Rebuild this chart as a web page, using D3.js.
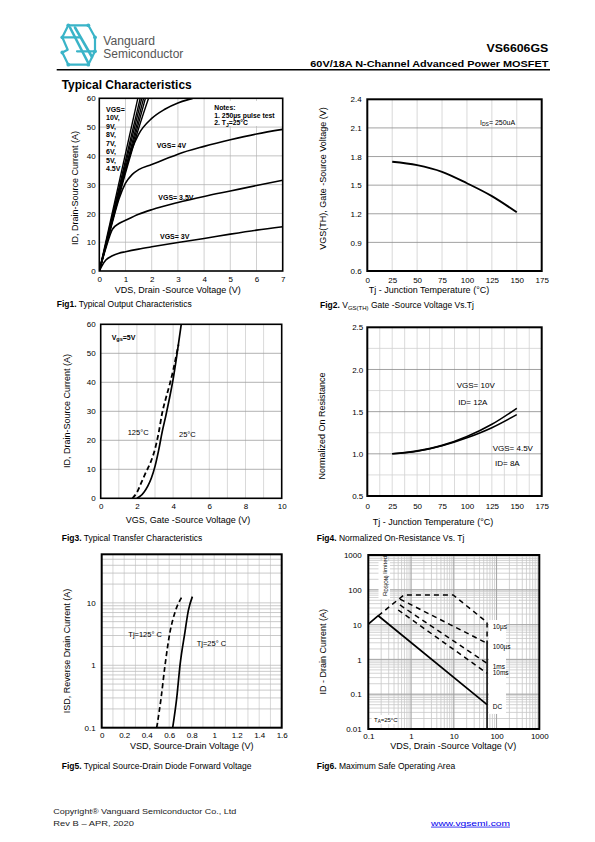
<!DOCTYPE html>
<html><head><meta charset="utf-8">
<script src="https://cdn.jsdelivr.net/npm/d3@7"></script>
<style>body{margin:0;background:#fff}svg{display:block}text{font-family:"Liberation Sans",Arial,sans-serif}</style>
</head><body>
<svg id="page" width="595" height="842"></svg>
<script>
// ---------------- DATA ----------------
// Fig1: output characteristics  [VDS (V), ID (A)]
const fig1Vgs10 = [[0,0],[1.47,60]];
const fig1Vgs9  = [[0,0],[1.56,60]];
const fig1Vgs8  = [[0,0],[1.62,60]];
const fig1Vgs7  = [[0,0],[1.69,60]];
const fig1Vgs6  = [[0,0],[0.9,31.5],[1.76,60]];
const fig1Vgs5  = [[0,0],[0.5,17.5],[1,34],[1.5,49.5],[1.88,60]];
const fig1Vgs45 = [[0,0],[0.25,9],[0.5,18.5],[0.75,27.5],[1,35.5],[1.25,42.5],[1.5,47.5],[2,53],[2.5,56.2],[3,58.4],[3.5,59.8],[3.7,60.3]];
const fig1Vgs4  = [[0,0],[0.25,8.5],[0.5,17],[0.75,25],[1,30.5],[1.25,33.5],[1.5,35.2],[2,37],[2.5,38.8],[3,40.6],[4,43.3],[5,45.6],[6,47.6],[7,49.2]];
const fig1Vgs35 = [[0,0],[0.25,8],[0.5,14.5],[0.75,16.5],[1,17.6],[1.5,19.7],[2,21.3],[3,23.8],[4,25.9],[5,27.8],[6,29.7],[7,31.5]];
const fig1Vgs3  = [[0,0],[0.1,1.8],[0.25,3.8],[0.5,5.3],[0.75,6.2],[1,6.7],[1.5,7.6],[2,8.4],[3,9.9],[4,11.3],[5,12.8],[6,14.2],[7,15.4]];
const fig1XTicks = [0,1,2,3,4,5,6,7];
const fig1YTicks = [0,10,20,30,40,50,60];

// Fig2: VGS(TH) vs Tj
const fig2Tj  = [25,50,75,100,125,150];
const fig2Vth = [1.745,1.71,1.64,1.52,1.385,1.215];
const fig2XTicks = [0,25,50,75,100,125,150,175];
const fig2YTicks = [0.6,0.9,1.2,1.5,1.8,2.1,2.4];

// Fig3: transfer characteristics [VGS, ID]
const fig3T25  = [[2.0,0],[2.2,0.8],[2.4,2.2],[2.6,4.2],[2.8,7],[3.0,11],[3.2,16.5],[3.4,23],[3.6,28.5],[3.8,34.5],[4.0,41],[4.2,49],[4.45,60]];
const fig3T125 = [[1.75,0],[2.0,2],[2.25,5.5],[2.5,9],[2.75,12.3],[3.0,17],[3.2,22.5],[3.4,29.5],[3.6,34.5],[3.8,39],[4.0,44],[4.2,50],[4.3,53]];
const fig3XTicks = [0,2,4,6,8,10];
const fig3YTicks = [0,10,20,30,40,50,60];

// Fig4: normalized on-resistance vs Tj
const fig4Tj    = [25,50,75,100,125,150];
const fig4Vgs10 = [1.0,1.035,1.1,1.205,1.35,1.54];
const fig4Vgs45 = [1.0,1.03,1.095,1.19,1.31,1.465];
const fig4XTicks = [0,25,50,75,100,125,150,175];
const fig4YTicks = [0.5,1.0,1.5,2.0,2.5];

// Fig5: source-drain diode forward voltage
const fig5Vsd25  = [0.631,0.667,0.696,0.74,0.77,0.806];
const fig5Is25   = [0.1,0.3,1,3.4,7.5,12.6];
const fig5Vsd125 = [0.489,0.527,0.563,0.607,0.652,0.711];
const fig5Is125  = [0.1,0.29,1,3.4,7.1,12.3];
const fig5XTicks = [0,0.2,0.4,0.6,0.8,1,1.2,1.4,1.6];
const fig5YTicks = [0.1,1,10];

// Fig6: safe operating area [VDS, ID]
const fig6DC      = [[0.1,10.4],[0.171,18],[60,0.05]];
const fig6DCwall  = [[60,3],[60,0.01]];
const fig6Us10    = [[0.171,18],[0.68,71],[9.7,71],[60,11.6],[60,2.9]];
const fig6Us100   = [[0.55,54],[60,2.9]];
const fig6Ms1     = [[0.55,36.6],[60,0.77]];
const fig6Ms10    = [[0.5,26.3],[60,0.4]];
const fig6XTicks = [0.1,1,10,100,1000];
const fig6YTicks = [0.01,0.1,1,10,100,1000];

// ---------------- DRAWING ----------------
const svg = d3.select("#page");
svg.append("rect").attr("width",595).attr("height",842).attr("fill","#fff");

function txt(g, x, y, s, size, opts={}) {
  const t = g.append("text").attr("x",x).attr("y",y).attr("font-size",size).attr("fill",opts.fill||"#000");
  if (opts.anchor) t.attr("text-anchor",opts.anchor);
  if (opts.weight) t.attr("font-weight",opts.weight);
  if (opts.len) t.attr("textLength",opts.len).attr("lengthAdjust","spacingAndGlyphs");
  if (opts.rotate) t.attr("transform",`rotate(-90,${x},${y})`);
  t.text(s);
  return t;
}

function panel(o) {
  const g = svg.append("g");
  const [xl, xr] = o.x.range();
  const [yb, yt] = o.y.range();
  (o.grids||[]).forEach(gr => {
    if (gr.dir === "v") {
      g.append("g").selectAll("line").data(gr.vals).join("line")
        .attr("x1",d=>o.x(d)).attr("x2",d=>o.x(d)).attr("y1",yb).attr("y2",yt)
        .attr("stroke",gr.color).attr("stroke-width",gr.w||0.8);
    } else {
      g.append("g").selectAll("line").data(gr.vals).join("line")
        .attr("y1",d=>o.y(d)).attr("y2",d=>o.y(d)).attr("x1",xl).attr("x2",xr)
        .attr("stroke",gr.color).attr("stroke-width",gr.w||0.8);
    }
  });
  svg.append("clipPath").attr("id",o.id).append("rect")
    .attr("x",xl).attr("y",yt).attr("width",xr-xl).attr("height",yb-yt);
  const plot = g.append("g").attr("clip-path",`url(#${o.id})`);
  const top = g.append("g");
  const ax = g.append("g").attr("transform",`translate(0,${yb})`)
    .call(d3.axisBottom(o.x).tickValues(o.xTicks).tickSize(0).tickFormat(o.xFmt||(d=>d)));
  ax.select(".domain").remove();
  ax.selectAll("text").attr("y",o.xOff).attr("dy",null).attr("font-size",8).attr("font-family","Liberation Sans, Arial, sans-serif").attr("fill","#000");
  const ay = g.append("g").attr("transform",`translate(${xl},0)`)
    .call(d3.axisLeft(o.y).tickValues(o.yTicks).tickSize(0).tickPadding(o.yOff).tickFormat(o.yFmt||(d=>d)));
  ay.select(".domain").remove();
  ay.selectAll("text").attr("font-size",8).attr("font-family","Liberation Sans, Arial, sans-serif").attr("fill","#000").attr("dy","0.33em");
  g.append("rect").attr("x",xl).attr("y",yt).attr("width",xr-xl).attr("height",yb-yt)
    .attr("fill","none").attr("stroke","#000").attr("stroke-width",o.frameW||1.6);
  return {g, plot, top};
}

function curve(plot, x, y, data, opts={}) {
  const line = d3.line().x(d=>x(d[0])).y(d=>y(d[1])).curve(opts.curve||d3.curveLinear);
  const p = plot.append("path").datum(data).attr("d",line).attr("fill","none")
    .attr("stroke","#000").attr("stroke-width",opts.w||1.6).attr("stroke-linejoin","round");
  if (opts.dash) p.attr("stroke-dasharray",opts.dash);
  return p;
}
const range = (a,b,s) => d3.range(a, b+s/2, s).map(v=>+v.toFixed(4));
function logMinors(lo, hi) {
  const out = [];
  for (let k = Math.floor(Math.log10(lo)); Math.pow(10,k) < hi; k++) {
    for (let m = 1; m <= 9; m++) { const v = +(m*Math.pow(10,k)).toPrecision(3); if (v>lo && v<hi) out.push(v); }
  }
  return out;
}
function caption(x, y, bold, rest) {
  const t = svg.append("text").attr("x",x).attr("y",y).attr("font-size",8.5);
  t.append("tspan").attr("font-weight","bold").text(bold);
  t.append("tspan").text(rest);
  return t;
}

// ---------------- HEADER ----------------
const logo = svg.append("g").attr("stroke","#3ab4c8").attr("fill","none").attr("stroke-width",2.2).attr("stroke-linecap","round").attr("stroke-linejoin","round");
logo.append("path").attr("d","M68.3,25.3 L88.3,25.3 L95,37.3 M62.3,37.3 L68.3,25.3 M62.3,37.3 L80,37.3 M62.3,37.3 L67.7,49.7 M95,37.3 L95,51.3 M77,51.3 L95,51.3 M95,51.3 L88.3,64.7 L68.3,64.7 L62.3,52.5 M67.7,49.7 L62.3,52.5");
logo.append("path").attr("d","M70,27.5 L88,62.5 M75,27.5 L92,57").attr("stroke-width",2.6);
logo.selectAll("circle").data([[68.3,25.3],[88.3,25.3],[95,37.3],[62.3,37.3],[95,51.3],[88.3,64.7],[68.3,64.7],[62.3,52.5]]).join("circle")
  .attr("cx",d=>d[0]).attr("cy",d=>d[1]).attr("r",1.9).attr("fill","#3ab4c8").attr("stroke","none");
txt(svg,103.3,44.5,"Vanguard",12,{fill:"#555",len:51.7}).attr("font-family","Open Sans, sans-serif");
txt(svg,103.3,57.5,"Semiconductor",12,{fill:"#555",len:80}).attr("font-family","Open Sans, sans-serif");
txt(svg,548.3,52.3,"VS6606GS",11.5,{anchor:"end",weight:"bold",len:61.7});
txt(svg,548.3,67.3,"60V/18A  N-Channel  Advanced  Power  MOSFET",9.5,{anchor:"end",weight:"bold",len:238});
svg.append("line").attr("x1",56.7).attr("x2",550).attr("y1",69.8).attr("y2",69.8).attr("stroke","#000").attr("stroke-width",1.4);
txt(svg,61.7,89,"Typical Characteristics",12.5,{weight:"bold",len:130});

// ---------------- FIG 1 ----------------
{
  const x = d3.scaleLinear().domain([0,7]).range([99.3,282.7]);
  const y = d3.scaleLinear().domain([0,60]).range([271,98.3]);
  const P = panel({id:"c1",x,y,xTicks:fig1XTicks,yTicks:fig1YTicks,xOff:10.7,yOff:3.6,
    grids:[{dir:"v",vals:[1,2,3,4,5,6],color:"#c4c4c4"},{dir:"h",vals:[10,20,30,40,50],color:"#b4b4b4"}]});
  [fig1Vgs10,fig1Vgs9,fig1Vgs8,fig1Vgs7,fig1Vgs6,fig1Vgs5].forEach(d=>curve(P.plot,x,y,d,{w:1.4,curve:d3.curveMonotoneX}));
  [fig1Vgs45,fig1Vgs4,fig1Vgs35,fig1Vgs3].forEach(d=>curve(P.plot,x,y,d,{w:1.6,curve:d3.curveMonotoneX}));
  const lbl = ["VGS=","10V,","9V,","8V,","7V,","6V,","5V,","4.5V"];
  lbl.forEach((s,i)=>txt(P.top,106,111.5+i*8.5,s,7,{weight:"bold"}));
  P.top.append("rect").attr("x",212).attr("y",101).attr("width",62).attr("height",25).attr("fill","#fff");
  txt(P.top,214.3,110,"Notes:",6.8,{weight:"bold"});
  txt(P.top,214.3,117.5,"1. 250µs pulse test",6.8,{weight:"bold"});
  const n2 = P.top.append("text").attr("x",214.3).attr("y",125).attr("font-size",6.8).attr("font-weight","bold");
  n2.append("tspan").text("2. T"); n2.append("tspan").attr("font-size",5).attr("dy",1.5).text("J");
  n2.append("tspan").attr("dy",-1.5).text("=25°C");
  txt(P.top,156.7,147.5,"VGS= 4V",7,{weight:"bold"});
  txt(P.top,158.3,199.5,"VGS= 3.5V",7,{weight:"bold"});
  txt(P.top,160,239,"VGS= 3V",7,{weight:"bold"});
  txt(svg,78,188,"ID, Drain-Source Current (A)",9,{anchor:"middle",rotate:true});
  txt(svg,177.8,293.2,"VDS, Drain -Source Voltage (V)",9,{anchor:"middle"});
  caption(56.7,307,"Fig1.", " Typical Output Characteristics");
}

// ---------------- FIG 2 ----------------
{
  const x = d3.scaleLinear().domain([0,175]).range([367.3,541.7]);
  const y = d3.scaleLinear().domain([0.6,2.4]).range([271,99.3]);
  const P = panel({id:"c2",x,y,xTicks:fig2XTicks,yTicks:fig2YTicks,xOff:11.7,yOff:5.6,yFmt:d3.format(".1f"),frameW:2,
    grids:[{dir:"v",vals:[25,50,75,100,125,150],color:"#cfcfcf"},{dir:"h",vals:[0.9,1.2,1.5,1.8,2.1],color:"#8a8a8a"}]});
  curve(P.plot,x,y,fig2Tj.map((t,i)=>[t,fig2Vth[i]]),{w:1.9,curve:d3.curveMonotoneX});
  const t = P.top.append("text").attr("x",480).attr("y",124.5).attr("font-size",7);
  t.append("tspan").text("I"); t.append("tspan").attr("font-size",5).attr("dy",1).text("DS");
  t.append("tspan").attr("dy",-1).text("= 250uA");
  txt(svg,326,178.5,"VGS(TH), Gate -Source Voltage (V)",9,{anchor:"middle",rotate:true});
  txt(svg,429,293.3,"Tj - Junction Temperature (°C)",9,{anchor:"middle"});
  const c = svg.append("text").attr("x",320).attr("y",308.3).attr("font-size",8.5);
  c.append("tspan").attr("font-weight","bold").text("Fig2.");
  c.append("tspan").text(" V");
  c.append("tspan").attr("font-size",6).attr("dy",1.5).text("GS(TH)");
  c.append("tspan").attr("dy",-1.5).text(" Gate -Source Voltage Vs.Tj");
}

// ---------------- FIG 3 ----------------
{
  const x = d3.scaleLinear().domain([0,10]).range([100.7,281.7]);
  const y = d3.scaleLinear().domain([0,60]).range([498.3,324.3]);
  const P = panel({id:"c3",x,y,xTicks:fig3XTicks,yTicks:fig3YTicks,xOff:10.7,yOff:5,
    grids:[{dir:"v",vals:[1,2,3,4,5,6,7,8,9],color:"#cfcfcf"},{dir:"h",vals:[10,20,30,40,50],color:"#a0a0a0"}]});
  curve(P.plot,x,y,fig3T125,{w:1.8,dash:"5,3",curve:d3.curveMonotoneX});
  curve(P.plot,x,y,fig3T25,{w:1.7,curve:d3.curveMonotoneX});
  const v = P.top.append("text").attr("x",111.7).attr("y",340).attr("font-size",7).attr("font-weight","bold");
  v.append("tspan").text("V"); v.append("tspan").attr("font-size",5.5).attr("dy",1).text("gs");
  v.append("tspan").attr("dy",-1).text("=5V");
  txt(P.top,127.7,434.5,"125°C",7.5);
  txt(P.top,179,437,"25°C",7.5);
  txt(svg,70,411,"ID, Drain-Source Current (A)",9,{anchor:"middle",rotate:true});
  txt(svg,188,523.3,"VGS, Gate -Source Voltage (V)",9,{anchor:"middle"});
  caption(61.7,540.5,"Fig3.", " Typical Transfer Characteristics");
}

// ---------------- FIG 4 ----------------
{
  const x = d3.scaleLinear().domain([0,175]).range([367.3,541.7]);
  const y = d3.scaleLinear().domain([0.5,2.5]).range([496,327.3]);
  const P = panel({id:"c4",x,y,xTicks:fig4XTicks,yTicks:fig4YTicks,xOff:13,yOff:4,yFmt:d3.format(".1f"),frameW:2,
    grids:[{dir:"v",vals:range(12.5,162.5,12.5),color:"#d2d2d2"},{dir:"h",vals:[0.75,1.25,1.75,2.25],color:"#d2d2d2"},{dir:"h",vals:[1.0,1.5,2.0],color:"#8a8a8a"}]});
  curve(P.plot,x,y,fig4Tj.map((t,i)=>[t,fig4Vgs10[i]]),{w:1.6,curve:d3.curveMonotoneX});
  curve(P.plot,x,y,fig4Tj.map((t,i)=>[t,fig4Vgs45[i]]),{w:1.6,curve:d3.curveMonotoneX});
  txt(P.top,456.7,388,"VGS= 10V",8);
  txt(P.top,458.3,404.5,"ID= 12A",8);
  txt(P.top,492.7,450.5,"VGS= 4.5V",8);
  txt(P.top,495,465.5,"ID= 8A",8);
  txt(svg,325,426,"Normalized On Resistance",9,{anchor:"middle",rotate:true});
  txt(svg,433,525,"Tj - Junction Temperature (°C)",9,{anchor:"middle"});
  caption(316.7,540.5,"Fig4.", " Normalized On-Resistance Vs. Tj");
}

// ---------------- FIG 5 ----------------
{
  const x = d3.scaleLinear().domain([0,1.6]).range([101.7,281.7]);
  const y = d3.scaleLog().domain([0.1,60]).range([727.7,554.3]);
  const P = panel({id:"c5",x,y,xTicks:fig5XTicks,yTicks:fig5YTicks,xOff:10.7,yOff:6,frameW:2,
    grids:[{dir:"v",vals:range(0.1,1.5,0.1),color:"#cfcfcf"},{dir:"h",vals:logMinors(0.1,60),color:"#bdbdbd"}]});
  curve(P.plot,x,y,fig5Vsd125.map((v,i)=>[v,fig5Is125[i]]),{w:1.7,dash:"5,3",curve:d3.curveMonotoneX});
  curve(P.plot,x,y,fig5Vsd25.map((v,i)=>[v,fig5Is25[i]]),{w:1.7,curve:d3.curveMonotoneX});
  txt(P.top,128.3,636.5,"Tj=125° C",7.5);
  txt(P.top,196.7,645.5,"Tj=25° C",7.5);
  txt(svg,70,651,"ISD, Reverse Drain Current (A)",9,{anchor:"middle",rotate:true});
  txt(svg,191.7,749,"VSD, Source-Drain Voltage (V)",9,{anchor:"middle"});
  caption(61.7,768.5,"Fig5.", " Typical Source-Drain Diode Forward Voltage");
}

// ---------------- FIG 6 ----------------
{
  const x = d3.scaleLog().domain([0.1,1000]).range([368.3,539.3]);
  const y = d3.scaleLog().domain([0.01,1000]).range([729,555]);
  const P = panel({id:"c6",x,y,xTicks:fig6XTicks,yTicks:fig6YTicks,xOff:10,yOff:6.6,frameW:2,
    xFmt:d=>d>=1?d3.format("d")(d):d, yFmt:d=>d>=1?d3.format("d")(d):d,
    grids:[{dir:"v",vals:logMinors(0.1,1000),color:"#c8c8c8"},{dir:"h",vals:logMinors(0.01,1000),color:"#c8c8c8"},
           {dir:"v",vals:[1,10,100],color:"#9a9a9a"},{dir:"h",vals:[0.1,1,10,100],color:"#9a9a9a"}]});
  P.plot.append("rect").attr("x",489).attr("y",620).attr("width",17).attr("height",94).attr("fill","#fff");
  P.plot.append("rect").attr("x",378.5).attr("y",561).attr("width",11.5).attr("height",38).attr("fill","#fff");
  P.plot.append("rect").attr("x",371.7).attr("y",715).attr("width",23.5).attr("height",9).attr("fill","#fff");
  [fig6Us10,fig6Us100,fig6Ms1,fig6Ms10].forEach(d=>curve(P.plot,x,y,d,{w:1.5,dash:"5,4"}));
  curve(P.plot,x,y,fig6DC,{w:1.7});
  curve(P.plot,x,y,fig6DCwall,{w:1.5});
  txt(P.top,492.7,628.5,"10µs",6.5);
  txt(P.top,492.7,649,"100µs",6.5);
  txt(P.top,492.7,669,"1ms",6.5);
  txt(P.top,492.7,675,"10ms",6.5);
  txt(P.top,492.7,709,"DC",6.5);
  const r = P.top.append("text").attr("transform","translate(386.5,596) rotate(-90)").attr("font-size",6.2);
  r.append("tspan").text("R"); r.append("tspan").attr("font-size",4.5).attr("dy",1).text("DS(ON)");
  r.append("tspan").attr("dy",-1).text(" limited");
  const ta = P.top.append("text").attr("x",374).attr("y",722).attr("font-size",6);
  ta.append("tspan").text("T"); ta.append("tspan").attr("font-size",4.5).attr("dy",1).text("A");
  ta.append("tspan").attr("dy",-1).text("=25°C");
  txt(svg,326,651.7,"ID - Drain Current (A)",9,{anchor:"middle",rotate:true});
  txt(svg,453.3,749,"VDS, Drain -Source Voltage (V)",9,{anchor:"middle"});
  caption(316.7,768.5,"Fig6.", " Maximum Safe Operating Area");
}

// ---------------- FOOTER ----------------
txt(svg,53.3,814.3,"Copyright® Vanguard Semiconductor Co., Ltd",7.5,{fill:"#222",len:183}).attr("font-family","DejaVu Sans, Verdana, sans-serif");
txt(svg,53.3,825.7,"Rev B – APR, 2020",7.5,{fill:"#222",len:80.7}).attr("font-family","DejaVu Sans, Verdana, sans-serif");
txt(svg,431,825.7,"www.vgsemi.com",7.5,{fill:"#0000ee",len:79}).attr("font-family","DejaVu Sans, Verdana, sans-serif").attr("text-decoration","underline");
</script>
</body></html>
